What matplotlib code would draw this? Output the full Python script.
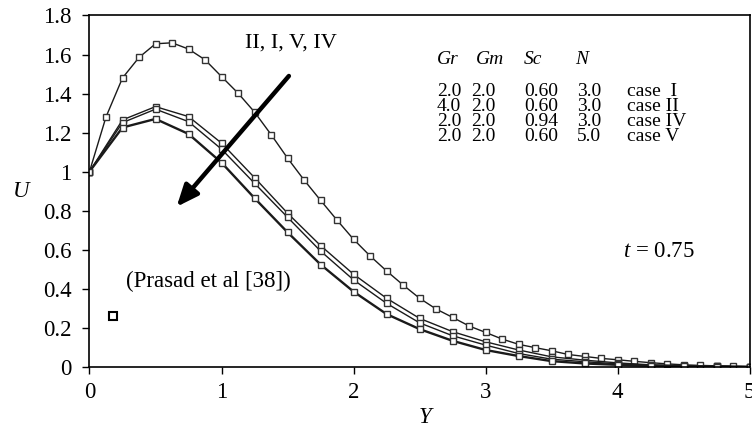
import matplotlib.pyplot as plt

plt.rcParams['font.family'] = ['Liberation Serif', 'DejaVu Serif']
plt.rcParams['mathtext.fontset'] = 'custom'
plt.rcParams['mathtext.rm'] = 'Liberation Serif'
plt.rcParams['mathtext.it'] = 'Liberation Serif:italic'

# x positions of the markers
y_fine = [0.0, 0.125, 0.25, 0.375, 0.5, 0.625, 0.75, 0.875, 1.0, 1.125, 1.25, 1.375,
          1.5, 1.625, 1.75, 1.875, 2.0, 2.125, 2.25, 2.375, 2.5, 2.625, 2.75, 2.875,
          3.0, 3.125, 3.25, 3.375, 3.5, 3.625, 3.75, 3.875, 4.0, 4.125, 4.25, 4.375,
          4.5, 4.625, 4.75, 4.875, 5.0]
y_coarse = [0.0, 0.25, 0.5, 0.75, 1.0, 1.25, 1.5, 1.75, 2.0, 2.25, 2.5, 2.75, 3.0,
            3.25, 3.5, 3.75, 4.0, 4.25, 4.5, 4.75, 5.0]

u_case2 = [1.0, 1.28, 1.48, 1.585, 1.655, 1.66, 1.628, 1.573, 1.487, 1.402, 1.305, 1.19,
           1.069, 0.957, 0.853, 0.751, 0.653, 0.568, 0.491, 0.419, 0.351, 0.296, 0.253,
           0.209, 0.176, 0.142, 0.115, 0.098, 0.082, 0.063, 0.053, 0.043, 0.036, 0.028,
           0.021, 0.015, 0.010, 0.007, 0.005, 0.003, 0.001]
u_case1 = [1.0, 1.265, 1.333, 1.282, 1.146, 0.969, 0.787, 0.621, 0.474, 0.351, 0.248,
           0.18, 0.128, 0.086, 0.051, 0.034, 0.02, 0.01, 0.006, 0.003, 0.0]
u_case5 = [1.0, 1.251, 1.32, 1.256, 1.115, 0.94, 0.766, 0.593, 0.445, 0.325, 0.225,
           0.159, 0.111, 0.068, 0.039, 0.026, 0.015, 0.008, 0.004, 0.002, 0.0]
u_case4 = [1.0, 1.226, 1.27, 1.193, 1.046, 0.864, 0.689, 0.524, 0.385, 0.27, 0.193,
           0.133, 0.086, 0.055, 0.029, 0.017, 0.01, 0.005, 0.003, 0.001, 0.0]

header = ['Gr', 'Gm', 'Sc', 'N']
header_x = [2.63, 2.93, 3.29, 3.68]
gr_col = ['2.0', '4.0', '2.0', '2.0']
gm_col = ['2.0', '2.0', '2.0', '2.0']
sc_col = ['0.60', '0.60', '0.94', '0.60']
n_col = ['3.0', '3.0', '3.0', '5.0']
case_col = ['case  I', 'case II', 'case IV', 'case V']
col_x = [2.63, 2.89, 3.29, 3.69, 4.07]

fig = plt.figure(figsize=(7.52, 4.30), dpi=100)
ax = fig.add_axes([0.119, 0.147, 0.878, 0.817])

line_kw = dict(color='#1a1a1a', marker='s', markersize=5, markerfacecolor='white',
               markeredgecolor='#333333', markeredgewidth=1.0)
ax.plot(y_fine, u_case2, lw=1.0, **line_kw)
ax.plot(y_coarse, u_case1, lw=1.0, **line_kw)
ax.plot(y_coarse, u_case5, lw=1.0, **line_kw)
ax.plot(y_coarse, u_case4, lw=1.7, **line_kw)

ax.annotate('', xy=(0.66, 0.82), xytext=(1.51, 1.49),
            arrowprops=dict(arrowstyle='-|>,head_length=1.3,head_width=0.55',
                            lw=3.2, color='black', shrinkA=0, shrinkB=0))
ax.text(1.18, 1.66, 'II, I, V, IV', fontsize=16, va='center')

for h, hx in zip(header, header_x):
    ax.text(hx, 1.573, h, fontsize=14, style='italic', va='center')
for col, cx in zip([gr_col, gm_col, sc_col, n_col, case_col], col_x):
    ax.text(cx, 1.295, '\n'.join(col), fontsize=14, va='center', linespacing=0.84)

ax.text(4.04, 0.59, r'$t$ = 0.75', fontsize=16.5, va='center')
ax.text(0.277, 0.436, '(Prasad et al [38])', fontsize=16.5, va='center')
ax.plot([0.176], [0.26], marker='s', markersize=6, markerfacecolor='white',
        markeredgecolor='black', markeredgewidth=1.5, linestyle='none')

ax.set_xlim(0, 5)
ax.set_ylim(0, 1.8)
ax.set_xticks([0, 1, 2, 3, 4, 5])
ax.set_xticklabels(['0', '1', '2', '3', '4', '5'])
ax.set_yticks([0, 0.2, 0.4, 0.6, 0.8, 1.0, 1.2, 1.4, 1.6, 1.8])
ax.set_yticklabels(['0', '0.2', '0.4', '0.6', '0.8', '1', '1.2', '1.4', '1.6', '1.8'])
ax.tick_params(labelsize=16.5, length=5, width=1, direction='out')
ax.tick_params(axis='y', pad=8)
ax.tick_params(axis='x', pad=6)
for s in ax.spines.values():
    s.set_linewidth(1.2)

ax.set_xlabel('Y', fontsize=16.5, style='italic', va='center')
ax.xaxis.set_label_coords(0.508, -0.143)
ax.set_ylabel('U', fontsize=16.5, style='italic', rotation=0, va='center', ha='center')
ax.yaxis.set_label_coords(-0.104, 0.5)

fig.savefig('out.png', dpi=100)
